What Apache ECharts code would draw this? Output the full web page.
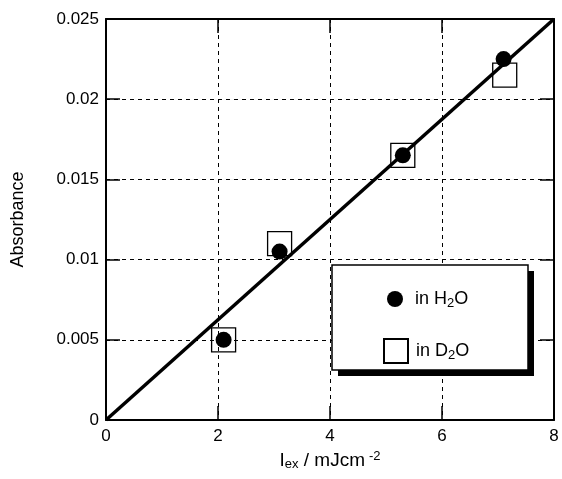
<!DOCTYPE html>
<html><head><meta charset="utf-8">
<script src="https://cdn.jsdelivr.net/npm/echarts@6/dist/echarts.min.js"></script>
<style>html,body{margin:0;padding:0;background:#fff}#c{width:562px;height:479px}</style>
</head><body><div id="c"></div>
<script>
const h2o = [[2.1, 0.0050], [3.1, 0.0105], [5.3, 0.0165], [7.1, 0.0225]];
const d2o = [[2.1, 0.0050], [3.1, 0.0110], [5.3, 0.0165], [7.12, 0.0215]];
const fitLine = [[0, 0], [8, 0.025]];
const xTicks = {min: 0, max: 8, interval: 2};
const yTicks = {min: 0, max: 0.025, interval: 0.005};
const legendNames = ['H2O', 'D2O'];

const F = 'Liberation Sans, Arial, sans-serif';
const chart = echarts.init(document.getElementById('c'));
const G = {left: 106, top: 19, width: 448, height: 401};
const tickStyle = {show: true, inside: true, length: 14, lineStyle: {color: '#000', width: 1.5}};
const lineStyle = {show: true, onZero: false, lineStyle: {color: '#000', width: 2}};
const split = {show: true, lineStyle: {color: '#000', width: 1, type: [4, 4]}};
const rich = {
  n: {fontFamily: F, fontSize: 19, color: '#000'},
  s: {fontFamily: F, fontSize: 13, color: '#000', verticalAlign: 'bottom', padding: [8, 0, 0, 0]},
  p: {fontFamily: F, fontSize: 13, color: '#000', verticalAlign: 'top', padding: [0, 0, 8, 4]}
};
const lrich = {
  n: {fontFamily: F, fontSize: 18, color: '#000'},
  s: {fontFamily: F, fontSize: 13, color: '#000', verticalAlign: 'bottom', padding: [8, 0, 0, 0]}
};
chart.setOption({
  animation: false,
  grid: G,
  xAxis: [
    {type: 'value', position: 'bottom', ...xTicks, axisLine: lineStyle, axisTick: tickStyle, splitLine: split,
     axisLabel: {color: '#000', fontFamily: F, fontSize: 17, margin: 8},
     name: '{n|I}{s|ex}{n| / mJcm}{p|-2}', nameLocation: 'middle', nameGap: 27,
     nameTextStyle: {rich: rich}},
    {type: 'value', position: 'top', ...xTicks, axisLine: lineStyle, axisTick: tickStyle, splitLine: {show: false}, axisLabel: {show: false}}
  ],
  yAxis: [
    {type: 'value', position: 'left', ...yTicks, axisLine: lineStyle, axisTick: tickStyle, splitLine: split,
     axisLabel: {color: '#000', fontFamily: F, fontSize: 17, margin: 7},
     name: 'Absorbance', nameLocation: 'middle', nameGap: 79,
     nameTextStyle: {color: '#000', fontFamily: F, fontSize: 18}},
    {type: 'value', position: 'right', ...yTicks, axisLine: lineStyle, axisTick: tickStyle, splitLine: {show: false}, axisLabel: {show: false}}
  ],
  graphic: [
    {type: 'rect', z: 3, shape: {x: 338, y: 271, width: 196, height: 105}, style: {fill: '#000'}},
    {type: 'rect', z: 3, shape: {x: 332, y: 265, width: 196, height: 105}, style: {fill: '#fff', stroke: '#000', lineWidth: 1.5}}
  ],
  legend: [
    {data: [legendNames[0]], left: 382, top: 285, z: 5, itemWidth: 16, itemHeight: 16, selectedMode: false,
     formatter: () => '{n|in H}{s|2}{n|O}', textStyle: {rich: lrich, padding: [0, 0, 0, 7]}},
    {data: [legendNames[1]], left: 378, top: 333, z: 5, itemWidth: 24, itemHeight: 24, selectedMode: false,
     formatter: () => '{n|in D}{s|2}{n|O}', textStyle: {rich: lrich, padding: [0, 0, 0, 3]}}
  ],
  series: [
    {type: 'line', data: fitLine, symbol: 'none', lineStyle: {color: '#000', width: 3.5}, z: 2, silent: true},
    {name: legendNames[1], type: 'scatter', data: d2o, symbol: 'rect', symbolSize: 24, z: 3,
     itemStyle: {color: 'rgba(0,0,0,0)', borderColor: '#000', borderWidth: 1.3, opacity: 1}},
    {name: legendNames[0], type: 'scatter', data: h2o, symbol: 'circle', symbolSize: 16, z: 4,
     itemStyle: {color: '#000', opacity: 1}}
  ]
});
</script></body></html>
